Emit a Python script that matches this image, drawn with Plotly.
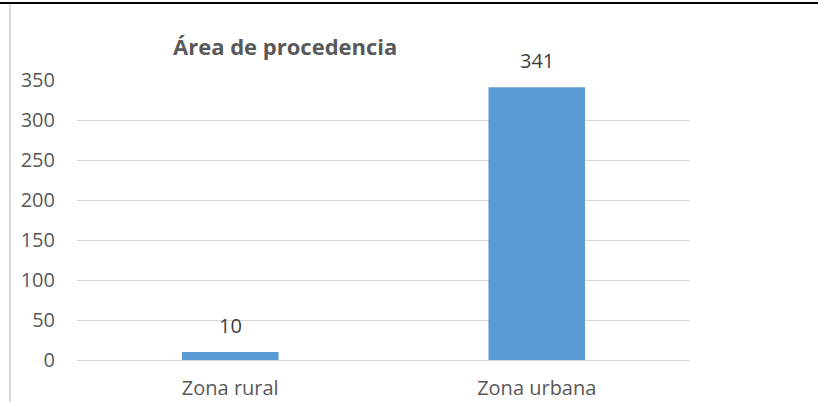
import plotly.graph_objects as go

categories = ["Zona rural", "Zona urbana"]
values = [10, 341]
tick_vals = [0, 50, 100, 150, 200, 250, 300, 350]
title_text = "Área de procedencia"

W, H = 818, 402
L, R, T, B = 77, 128, 80, 42
pw = W - L - R
ph = H - T - B
FONT = "Open Sans"

fig = go.Figure(go.Bar(
    x=categories, y=values,
    marker=dict(color="#5B9BD5", line=dict(width=0)),
    cliponaxis=False,
))

annotations = [dict(text="<b>" + title_text + "</b>", xref="paper", yref="paper",
                    x=(285 - L) / pw, y=1 + (T - 46) / ph, showarrow=False,
                    xanchor="center", yanchor="middle",
                    font=dict(family=FONT, size=22, color="#595959"))]
for c, v in zip(categories, values):
    annotations.append(dict(text=str(v), x=c, y=v, xref="x", yref="y", showarrow=False,
                            xanchor="center", yanchor="bottom", yshift=11,
                            font=dict(family=FONT, size=20, color="#404040")))

fig.update_layout(
    width=W, height=H,
    margin=dict(l=L, r=R, t=T, b=B, autoexpand=False),
    paper_bgcolor="white", plot_bgcolor="white",
    bargap=0.685,
    showlegend=False,
    font=dict(family=FONT, size=20, color="#595959"),
    xaxis=dict(showgrid=False, showline=False, zeroline=False, ticks="", automargin=False,
               tickfont=dict(size=20, color="#595959"), ticklabelstandoff=14),
    yaxis=dict(range=[0, 350], tickvals=tick_vals, showgrid=True, gridcolor="#D9D9D9",
               gridwidth=1, zeroline=True, zerolinecolor="#D9D9D9", zerolinewidth=1,
               showline=False, ticks="", automargin=False,
               tickfont=dict(size=20, color="#595959"), ticklabelstandoff=21),
    annotations=annotations,
    shapes=[
        dict(type="line", xref="paper", yref="paper", x0=-L / pw, x1=(W - L) / pw,
             y0=1 + (T - 3) / ph, y1=1 + (T - 3) / ph, line=dict(color="black", width=2)),
        dict(type="line", xref="paper", yref="paper", x0=(10 - L) / pw, x1=(10 - L) / pw,
             y0=-B / ph, y1=1 + (T - 4) / ph, line=dict(color="#D9D9D9", width=2)),
    ],
)

fig.write_html("out.html", config={"displayModeBar": False},
               post_script="document.body.style.margin='0';")
